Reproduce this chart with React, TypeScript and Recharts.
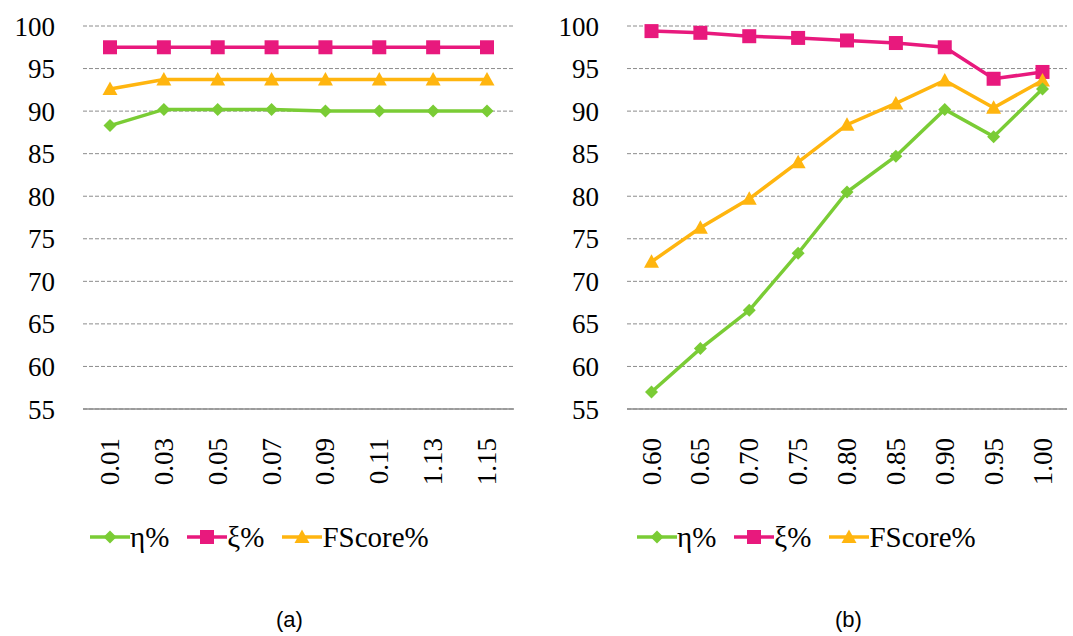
import { CartesianGrid, Line, LineChart, XAxis, YAxis } from "recharts";

const catsA = ["0.01", "0.03", "0.05", "0.07", "0.09", "0.11", "1.13", "1.15"];
const etaA = [88.3, 90.2, 90.2, 90.2, 90.0, 90.0, 90.0, 90.0];
const xiA = [97.5, 97.5, 97.5, 97.5, 97.5, 97.5, 97.5, 97.5];
const fsA = [92.6, 93.7, 93.7, 93.7, 93.7, 93.7, 93.7, 93.7];

const catsB = ["0.60", "0.65", "0.70", "0.75", "0.80", "0.85", "0.90", "0.95", "1.00"];
const etaB = [57.0, 62.1, 66.6, 73.3, 80.5, 84.7, 90.2, 87.0, 92.6];
const xiB = [99.4, 99.2, 98.8, 98.6, 98.3, 98.0, 97.5, 93.8, 94.6];
const fsB = [72.3, 76.3, 79.7, 84.0, 88.4, 90.9, 93.6, 90.4, 93.6];

const yTicks = [55, 60, 65, 70, 75, 80, 85, 90, 95, 100];

const GREEN = "#7acc35";
const PINK = "#e8197d";
const ORANGE = "#ffb50f";
const GRID = "#8c8c8c";
const SERIF = "Liberation Serif, Tinos, Times New Roman, Times, DejaVu Serif, Noto Serif, serif";

function Diamond({ cx, cy, fill, size = 6.5 }: any) {
  if (cx == null || cy == null) return null;
  return (
    <path
      d={`M${cx},${cy - size} L${cx + size},${cy} L${cx},${cy + size} L${cx - size},${cy} Z`}
      fill={fill}
    />
  );
}

function Square({ cx, cy, fill, size = 7 }: any) {
  if (cx == null || cy == null) return null;
  return <rect x={cx - size} y={cy - size} width={size * 2} height={size * 2} fill={fill} />;
}

function Triangle({ cx, cy, fill, size = 7.5 }: any) {
  if (cx == null || cy == null) return null;
  return (
    <path
      d={`M${cx},${cy - size} L${cx + size},${cy + size * 0.8} L${cx - size},${cy + size * 0.8} Z`}
      fill={fill}
    />
  );
}

function RotTick({ x, y, payload }: any) {
  return (
    <text
      transform={`translate(${x + 9}, ${y + 29}) rotate(-90)`}
      textAnchor="end"
      style={{ fontFamily: SERIF }}
      fontSize={27}
      fill="#000"
    >
      {payload.value}
    </text>
  );
}

function LegendItem({ color, label, Marker }: any) {
  return (
    <span style={{ display: "inline-flex", alignItems: "center", marginRight: 18 }}>
      <svg width={40} height={20}>
        <line x1={0} y1={10} x2={40} y2={10} stroke={color} strokeWidth={3.5} />
        <Marker cx={20} cy={10} fill={color} />
      </svg>
      <span>{label}</span>
    </span>
  );
}

function Panel({
  cats,
  eta,
  xi,
  fs,
  left,
  width,
  yWidth,
  marginRight,
  pad,
  legendLeft,
  caption,
  captionLeft,
}: {
  cats: string[];
  eta: number[];
  xi: number[];
  fs: number[];
  left: number;
  width: number;
  yWidth: number;
  marginRight: number;
  pad: number;
  legendLeft: number;
  caption: string;
  captionLeft: number;
}) {
  const data = cats.map((c, i) => ({ cat: c, eta: eta[i], xi: xi[i], fs: fs[i] }));
  return (
    <div style={{ position: "absolute", left, top: 0, width, height: 636 }}>
      <LineChart
        width={width}
        height={499}
        data={data}
        margin={{ top: 26, right: marginRight, bottom: 0, left: 0 }}
      >
        <CartesianGrid vertical={false} stroke={GRID} strokeDasharray="4 2" />
        <XAxis
          dataKey="cat"
          tick={<RotTick />}
          tickLine={false}
          tickSize={0}
          tickMargin={0}
          height={90}
          interval={0}
          padding={{ left: pad, right: pad }}
          axisLine={{ stroke: GRID, strokeWidth: 1.5 }}
        />
        <YAxis
          domain={[55, 100]}
          ticks={yTicks}
          width={yWidth}
          axisLine={false}
          tickLine={false}
          tickSize={0}
          tickMargin={28}
          tick={{ fill: "#000", fontSize: 27, style: { fontFamily: SERIF } }}
        />
        <Line
          dataKey="xi"
          stroke={PINK}
          strokeWidth={3.5}
          dot={<Square fill={PINK} />}
          isAnimationActive={false}
        />
        <Line
          dataKey="fs"
          stroke={ORANGE}
          strokeWidth={3.5}
          dot={<Triangle fill={ORANGE} />}
          isAnimationActive={false}
        />
        <Line
          dataKey="eta"
          stroke={GREEN}
          strokeWidth={3.5}
          dot={<Diamond fill={GREEN} />}
          isAnimationActive={false}
        />
      </LineChart>
      <div
        style={{
          position: "absolute",
          left: legendLeft,
          top: 519,
          height: 36,
          display: "flex",
          alignItems: "center",
          fontFamily: SERIF,
          fontSize: 29,
          whiteSpace: "nowrap",
          color: "#000",
        }}
      >
        <LegendItem color={GREEN} label="η%" Marker={Diamond} />
        <LegendItem color={PINK} label="ξ%" Marker={Square} />
        <LegendItem color={ORANGE} label="FScore%" Marker={Triangle} />
      </div>
      <div
        style={{
          position: "absolute",
          left: captionLeft,
          top: 607,
          fontFamily: "Liberation Sans, Arial, sans-serif",
          fontSize: 22,
          color: "#000",
        }}
      >
        {caption}
      </div>
    </div>
  );
}

export default function App() {
  return (
    <div
      style={{
        position: "absolute",
        left: 0,
        top: 0,
        width: 1073,
        height: 636,
        background: "#fff",
        overflow: "hidden",
      }}
    >
      <Panel
        cats={catsA}
        eta={etaA}
        xi={xiA}
        fs={fsA}
        left={0}
        width={540}
        yWidth={83}
        marginRight={26}
        pad={27}
        legendLeft={90}
        caption="(a)"
        captionLeft={276}
      />
      <Panel
        cats={catsB}
        eta={etaB}
        xi={xiB}
        fs={fsB}
        left={540}
        width={533}
        yWidth={87}
        marginRight={6}
        pad={24.5}
        legendLeft={97}
        caption="(b)"
        captionLeft={295}
      />
    </div>
  );
}
